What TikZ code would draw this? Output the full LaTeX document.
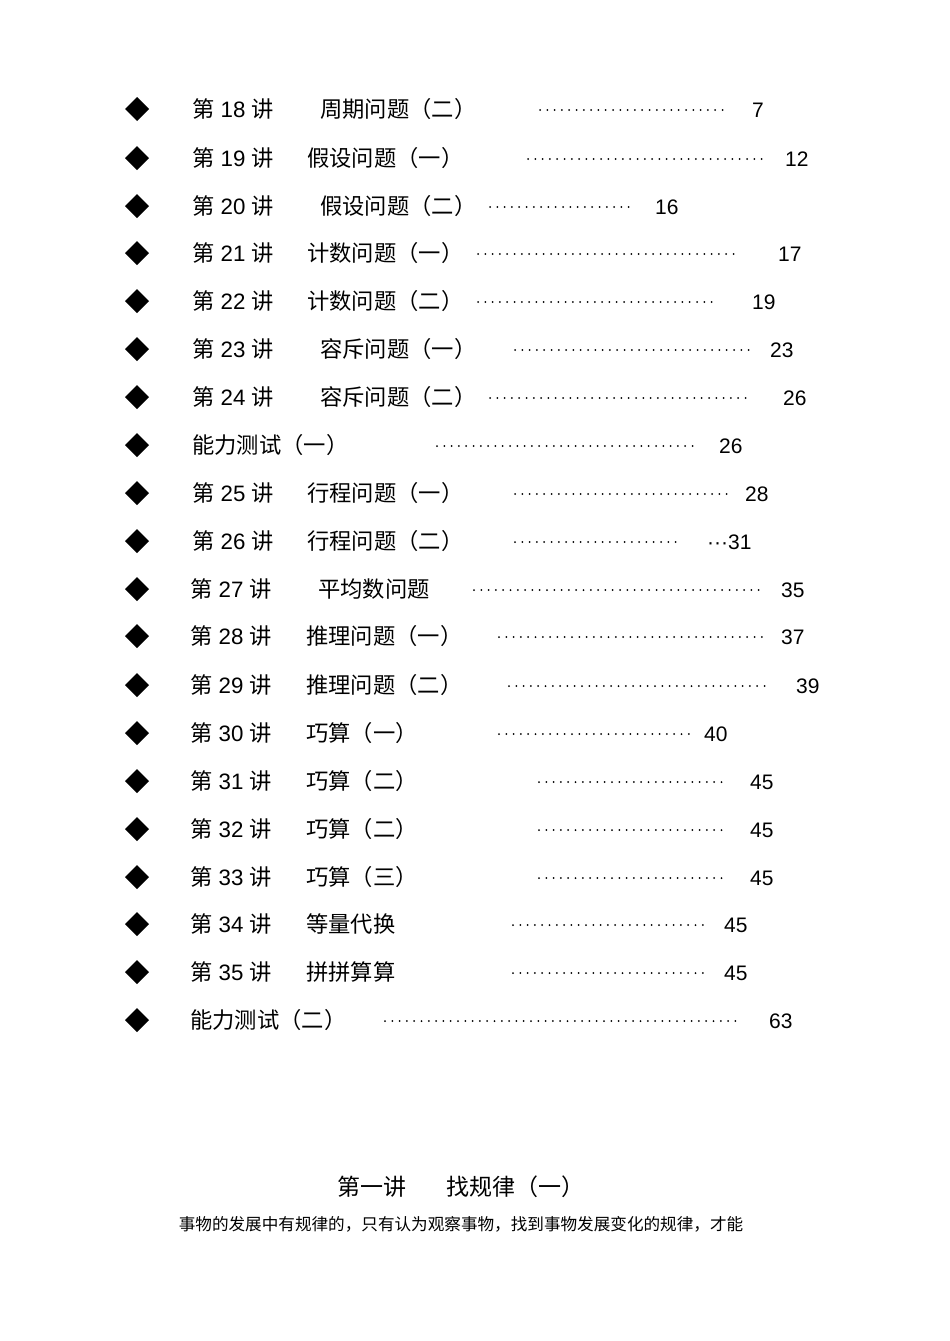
\documentclass[tikz,border=0pt]{standalone}
\usepackage{fontspec}
\newfontfamily\cjk{Noto Sans CJK SC}
\newfontfamily\num{Liberation Sans}
\newcommand{\jiang}[1]{第{\num\ #1\ }讲}
\begin{document}
\begin{tikzpicture}[x=1pt,y=-1pt,
  txt/.style={anchor=west,inner sep=0pt,font=\fontsize{22.3}{22}\cjk},
  numtxt/.style={anchor=west,inner sep=0pt,font=\fontsize{21}{21}\num},
  dotline/.style={line width=2pt,line cap=round,dash pattern=on 0pt off 7.3pt}]
\useasboundingbox (0,0) rectangle (950,1341);
\fill[white] (0,0) rectangle (950,1341);
\foreach \y/\lx/\lab/\tx/\ti/\da/\db/\nx/\nu [count=\i] in {
 109/192/\jiang{18}/320/周期问题（二）/540/728/752/7,
 158/192/\jiang{19}/307/假设问题（一）/528/766/785/12,
 206/192/\jiang{20}/320/假设问题（二）/490/632/655/16,
 253/192/\jiang{21}/307/计数问题（一）/478/738/778/17,
 301/192/\jiang{22}/307/计数问题（二）/478/714/752/19,
 349/192/\jiang{23}/320/容斥问题（一）/515/750/770/23,
 397/192/\jiang{24}/320/容斥问题（二）/490/750/783/26,
 445/192/能力测试（一）/0//437/697/719/26,
 493/192/\jiang{25}/307/行程问题（一）/515/727/745/28,
 541/192/\jiang{26}/307/行程问题（二）/515/680/707/{···31},
 589/190/\jiang{27}/318/平均数问题/474/760/781/35,
 636/190/\jiang{28}/306/推理问题（一）/499/761/781/37,
 685/190/\jiang{29}/306/推理问题（二）/509/770/796/39,
 733/190/\jiang{30}/306/巧算（一）/499/689/704/40,
 781/190/\jiang{31}/306/巧算（二）/539/727/750/45,
 829/190/\jiang{32}/306/巧算（二）/539/727/750/45,
 877/190/\jiang{33}/306/巧算（三）/539/727/750/45,
 924/190/\jiang{34}/306/等量代换/513/703/724/45,
 972/190/\jiang{35}/306/拼拼算算/513/703/724/45,
 1020/190/能力测试（二）/0//385/740/769/63}{
  \fill (125,\y) -- (137,\y-12) -- (149,\y) -- (137,\y+12) -- cycle;
  \node[txt] (l\i) at (\lx,\y) {\lab};
  \node[txt] (t\i) at (\tx,\y) {\ti};
  \draw[dotline] (\da,\y+1) -- (\db+1,\y+1);
  \node[numtxt] (n\i) at (\nx,\y+1) {\nu};
}
\node[inner sep=0pt,font=\fontsize{23}{23}\cjk] (title) at (461,1187) {第一讲\hspace{1.7em}找规律（一）};
\node[inner sep=0pt,font=\fontsize{16.6}{16.6}\cjk] (para) at (461,1224) {事物的发展中有规律的，只有认为观察事物，找到事物发展变化的规律，才能};
\end{tikzpicture}
\end{document}
